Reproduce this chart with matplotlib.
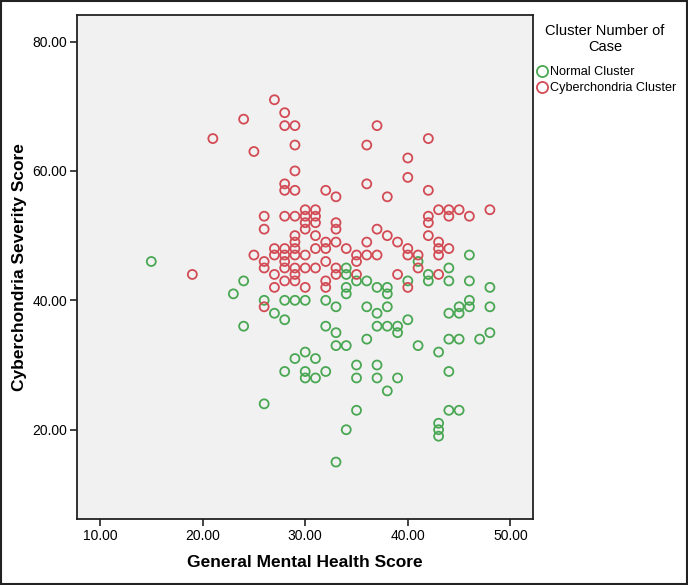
import matplotlib
matplotlib.use("Agg")
import matplotlib.pyplot as plt
from matplotlib.lines import Line2D
from matplotlib.patches import Rectangle

# Normal cluster (green)
normal_x = [15, 24, 23, 24, 26, 27, 28, 28, 29, 30,
            46, 34, 34, 35, 36, 41, 42, 42, 44, 44, 46, 40, 34, 34, 37, 38, 38,
            32, 33, 36, 37, 38, 44, 45, 45, 46, 46, 48, 48,
            32, 33, 37, 38, 39, 39, 40, 36, 33, 34, 41, 44, 45, 47, 48, 43,
            30, 31, 29, 30, 31, 32, 28, 30, 35, 37, 35, 37, 39, 44,
            26, 33, 34, 35, 43, 43, 43, 44, 45, 38]
normal_y = [46, 43, 41, 36, 40, 38, 37, 40, 40, 40,
            47, 45, 44, 43, 43, 46, 44, 43, 45, 43, 43, 43, 42, 41, 42, 42, 41,
            40, 39, 39, 38, 39, 38, 39, 38, 40, 39, 42, 39,
            36, 35, 36, 36, 36, 35, 37, 34, 33, 33, 33, 34, 34, 34, 35, 32,
            32, 31, 31, 29, 28, 29, 29, 28, 30, 30, 28, 28, 28, 29,
            24, 15, 20, 23, 21, 20, 19, 23, 23, 26]

# Cyberchondria cluster (red)
cyber_x = [27, 28, 24, 28, 29, 21, 29, 25, 29, 28, 28, 29,
           37, 36, 42, 40, 40, 36, 32, 33, 38, 42,
           26, 28, 29, 30, 31, 30, 31, 30, 31, 26, 33, 33, 37, 38, 30,
           43, 44, 45, 48, 44, 46, 42, 42,
           19, 25, 26, 26, 26, 27, 27, 28, 28, 29, 29, 29, 29, 28, 28, 29, 29,
           29, 30, 30, 30, 31, 31, 27, 27, 28, 31,
           33, 32, 32, 36, 35, 35, 36, 37, 39, 40, 40, 41, 43, 43, 43, 44, 34,
           32, 33, 33, 35, 39, 41, 43, 32, 32, 40, 42]
cyber_y = [71, 69, 68, 67, 67, 65, 64, 63, 60, 58, 57, 57,
           67, 64, 65, 62, 59, 58, 57, 56, 56, 57,
           53, 53, 53, 54, 54, 53, 53, 52, 52, 51, 52, 51, 51, 50, 51,
           54, 54, 54, 54, 53, 53, 53, 52,
           44, 47, 46, 45, 39, 48, 47, 48, 47, 50, 49, 48, 47, 46, 45, 45, 44,
           43, 47, 45, 42, 48, 45, 44, 42, 43, 50,
           49, 49, 48, 49, 47, 46, 47, 47, 49, 48, 47, 47, 49, 48, 47, 48, 48,
           46, 45, 44, 44, 44, 45, 44, 43, 42, 42, 50]

x_ticks = [10, 20, 30, 40, 50]
y_ticks = [20, 40, 60, 80]

green = "#4aa753"
red = "#d24b55"

fig = plt.figure(figsize=(6.88, 5.85), dpi=100)
plt.rcParams['font.family'] = ['Liberation Sans', 'DejaVu Sans']

ax = fig.add_axes([77/688, 1 - 519/585, (533-77)/688, (519-15)/585])
ax.set_facecolor("#f1f1f1")

ax.scatter(normal_x, normal_y, s=42, facecolors="none", edgecolors=green, linewidths=1.3, zorder=3)
ax.scatter(cyber_x, cyber_y, s=42, facecolors="none", edgecolors=red, linewidths=1.3, zorder=3)

ax.set_xlim(7.76, 52.2)
ax.set_ylim(6.2, 84.1)
ax.set_xticks(x_ticks)
ax.set_yticks(y_ticks)
ax.set_xticklabels([f"{v:.2f}" for v in x_ticks], fontsize=10)
ax.set_yticklabels([f"{v:.2f}" for v in y_ticks], fontsize=10)
ax.tick_params(direction="out", length=5, width=1.2, color="#222222", pad=2)
for sp in ax.spines.values():
    sp.set_linewidth(1.3)
    sp.set_color("#222222")

ax.set_xlabel("General Mental Health Score", fontsize=12.5, fontweight="bold", labelpad=9)
ax.set_ylabel("Cyberchondria Severity Score", fontsize=12.5, fontweight="bold", labelpad=4)

# Legend
fig.text(605/688, 1 - 39/585, "Cluster Number of\nCase", ha="center", va="center", fontsize=10.5, linespacing=1.1)
handles = [Line2D([], [], marker="o", linestyle="none", markerfacecolor="none",
                  markeredgecolor=green, markersize=8, markeredgewidth=1.3),
           Line2D([], [], marker="o", linestyle="none", markerfacecolor="none",
                  markeredgecolor=red, markersize=8, markeredgewidth=1.3)]
fig.legend(handles, ["Normal Cluster", "Cyberchondria Cluster"], loc="upper left",
           bbox_to_anchor=(530/688, 1 - 61/585), frameon=False, fontsize=9.1,
           handletextpad=0.05, borderaxespad=0, labelspacing=0.35, handlelength=1.1)

# Outer image border
fig.patches.append(Rectangle((0.001, 0.001), 0.998, 0.997, transform=fig.transFigure,
                             fill=False, edgecolor="#222222", linewidth=1.5))

fig.savefig("out.png", dpi=100)
